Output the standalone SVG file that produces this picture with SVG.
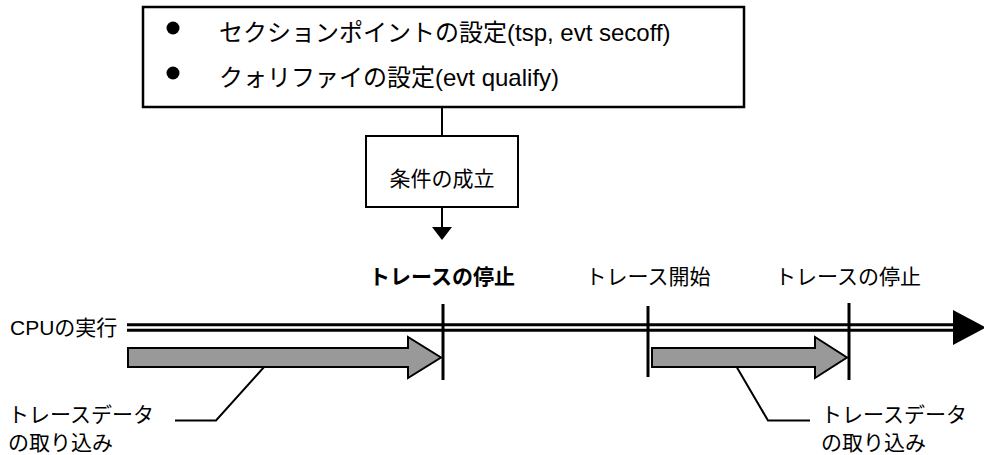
<svg xmlns="http://www.w3.org/2000/svg" width="984" height="455" viewBox="0 0 984 455">
<defs>
<style>
.t{font-family:"Liberation Sans","Noto Sans CJK JP",sans-serif;fill:#000}
.box{fill:#fff;stroke:#000}
.ln{fill:none;stroke:#000;stroke-width:2}
.mk{stroke:#000;stroke-width:3}
.ga{fill:#999;stroke:#000;stroke-width:2;stroke-linejoin:miter}
</style>
</defs>
<rect width="984" height="455" fill="#fff"/>
<g id="settings">
<rect class="box" x="143" y="7" width="601" height="100" stroke-width="2.5"/>
<circle cx="173" cy="28" r="6.5"/>
<circle cx="173" cy="73" r="6.5"/>
<text class="t" x="219" y="41" font-size="24">セクションポイントの設定(tsp, evt secoff)</text>
<text class="t" x="219" y="86" font-size="24">クォリファイの設定(evt qualify)</text>
</g>
<g id="condition">
<rect class="box" x="366" y="136" width="152" height="71" stroke-width="2"/>
<text class="t" x="442" y="186" font-size="21" text-anchor="middle">条件の成立</text>
</g>
<g id="connectors">
<line class="ln" x1="442" y1="107" x2="442" y2="136"/>
<line class="ln" x1="442" y1="207" x2="442" y2="228"/>
<polygon points="432,227 452,227 442,240" fill="#000"/>
<polyline class="ln" points="175,420.5 216,420.5 273,357"/>
<polyline class="ln" points="810,420.5 768,420.5 732,359"/>
</g>
<g id="timeline">
<text class="t" x="10" y="334.5" font-size="21">CPUの実行</text>
<line x1="127" y1="327.5" x2="955" y2="327.5" stroke="#000" stroke-width="8.5"/>
<line x1="127" y1="327.5" x2="955" y2="327.5" stroke="#fff" stroke-width="2.5"/>
<polygon points="953,310 953,345 986,327.5" fill="#000"/>
</g>
<g id="trace-arrow-1">
<polygon class="ga" points="128,348 408,348 408,337 441,357.5 408,378 408,367 128,367"/>
</g>
<g id="trace-arrow-2">
<polygon class="ga" points="652,348 815,348 815,337 847,357.5 815,378 815,367 652,367"/>
</g>
<g id="markers">
<line class="mk" x1="443" y1="304" x2="443" y2="380"/>
<line class="mk" x1="648" y1="306" x2="648" y2="377"/>
<line class="mk" x1="849" y1="303" x2="849" y2="380"/>
</g>
<g id="stop-1">
<text class="t" x="442" y="284" font-size="21" font-weight="bold" text-anchor="middle">トレースの停止</text>
</g>
<g id="start">
<text class="t" x="648" y="284" font-size="21" text-anchor="middle">トレース開始</text>
</g>
<g id="stop-2">
<text class="t" x="848" y="284" font-size="21" text-anchor="middle">トレースの停止</text>
</g>
<g id="capture-label-1">
<text class="t" x="8" y="422" font-size="21">トレースデータ</text>
<text class="t" x="8" y="450" font-size="21">の取り込み</text>
</g>
<g id="capture-label-2">
<text class="t" x="821" y="422" font-size="21">トレースデータ</text>
<text class="t" x="821" y="450" font-size="21">の取り込み</text>
</g>
</svg>
